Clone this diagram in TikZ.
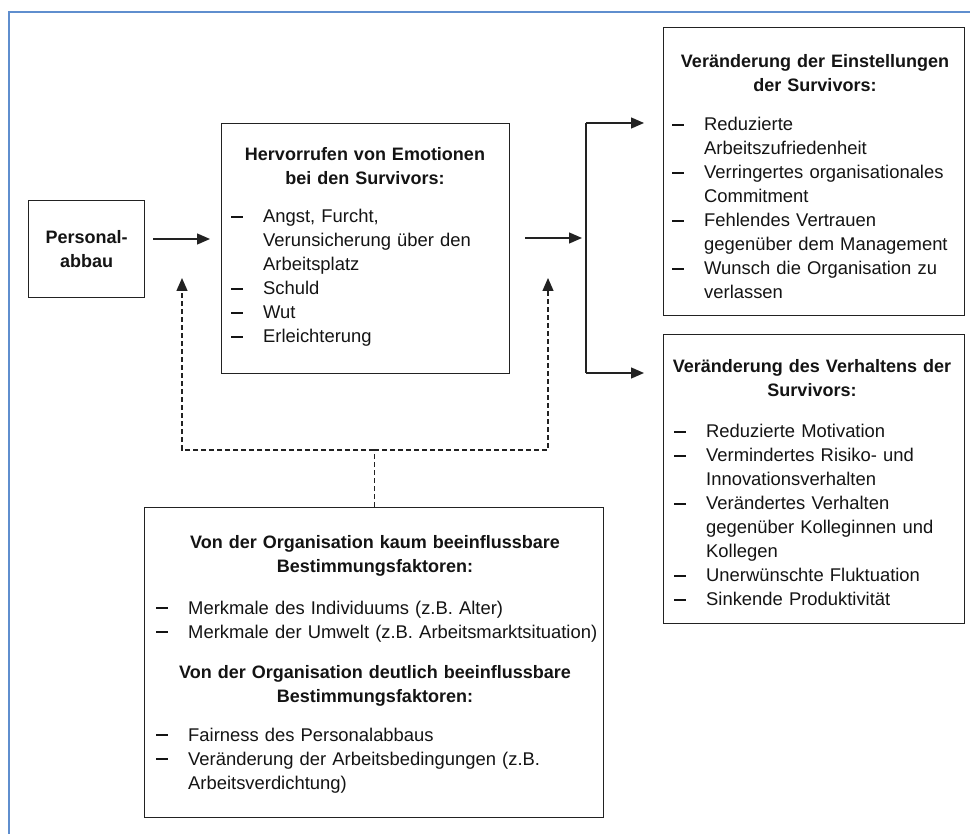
\documentclass[tikz,border=0pt]{standalone}
\usepackage{fontspec}
\setmainfont{Liberation Sans}
\usetikzlibrary{arrows.meta}
\definecolor{frameblue}{RGB}{95,142,206}
\definecolor{boxline}{RGB}{34,34,34}
\definecolor{ink}{RGB}{20,20,20}
% list bullet: a heavy dash, and the hanging indent for continued lines
\newcommand{\bdash}{\rule[5pt]{12pt}{2pt}}
\newcommand{\bitem}[1]{\makebox[32pt][l]{\bdash}#1}
\newcommand{\bcont}[1]{\hspace*{32pt}#1}
\begin{document}
\begin{tikzpicture}[x=1pt,y=-1pt,
  every node/.style={text=ink},
  box/.style={draw=boxline, line width=1.4pt, inner sep=0pt, anchor=north west},
  ttl/.style={anchor=base, inner sep=0pt, text width=460pt, align=center,
    font=\fontsize{18}{24}\selectfont\bfseries},
  lst/.style={anchor=base west, inner sep=0pt, text width=560pt, align=left,
    font=\fontsize{18.4}{24}\selectfont},
  line/.style={draw=boxline, line width=1.3pt},
  conn/.style={line, -{Triangle[length=13pt,width=11pt]}},
  dsh/.style={line, dash pattern=on 5pt off 3pt},
  tip/.style={-{Triangle[length=13pt,width=11pt]}},
]
\useasboundingbox (0,0) rectangle (970,834);
\fill[white] (0,0) rectangle (970,834);

% outer frame (top and left edges)
\draw[frameblue, line width=2.4pt] (9,840) -- (9,12) -- (976,12);

% boxes
\node[box, minimum width=116pt, minimum height=97pt, align=center,
  font=\fontsize{18}{24}\selectfont\bfseries] (b1) at (28,200) {Personal-\\abbau};
\node[box, minimum width=288pt, minimum height=250pt] (b2) at (221,123) {};
\node[box, minimum width=301pt, minimum height=288pt] (b3) at (663,27) {};
\node[box, minimum width=301pt, minimum height=289pt] (b4) at (663,334) {};
\node[box, minimum width=459pt, minimum height=310pt] (b5) at (144,507) {};

% emotions
\node[ttl] (b2t) at (365,161) {Hervorrufen von Emotionen\\bei den Survivors:};
\node[lst] (b2l) at (231,223) {\bitem{Angst, Furcht,}\\
  \bcont{Verunsicherung über den}\\
  \bcont{Arbeitsplatz}\\
  \bitem{Schuld}\\
  \bitem{Wut}\\
  \bitem{Erleichterung}};

% attitudes
\node[ttl] (b3t) at (815,68) {Veränderung der Einstellungen\\der Survivors:};
\node[lst] (b3l) at (672,131) {\bitem{Reduzierte}\\
  \bcont{Arbeitszufriedenheit}\\
  \bitem{Verringertes organisationales}\\
  \bcont{Commitment}\\
  \bitem{Fehlendes Vertrauen}\\
  \bcont{gegenüber dem Management}\\
  \bitem{Wunsch die Organisation zu}\\
  \bcont{verlassen}};

% behaviour
\node[ttl] (b4t) at (812,373) {Veränderung des Verhaltens der\\Survivors:};
\node[lst] (b4l) at (674,438) {\bitem{Reduzierte Motivation}\\
  \bitem{Vermindertes Risiko- und}\\
  \bcont{Innovationsverhalten}\\
  \bitem{Verändertes Verhalten}\\
  \bcont{gegenüber Kolleginnen und}\\
  \bcont{Kollegen}\\
  \bitem{Unerwünschte Fluktuation}\\
  \bitem{Sinkende Produktivität}};

% determinants
\node[ttl] (b5t1) at (375,548) {Von der Organisation kaum beeinflussbare\\Bestimmungsfaktoren:};
\node[lst] (b5l1) at (156,614) {\bitem{Merkmale des Individuums (z.B. Alter)}\\
  \bitem{Merkmale der Umwelt (z.B. Arbeitsmarktsituation)}};
\node[ttl] (b5t2) at (375,678) {Von der Organisation deutlich beeinflussbare\\Bestimmungsfaktoren:};
\node[lst] (b5l2) at (156,741) {\bitem{Fairness des Personalabbaus}\\
  \bitem{Veränderung der Arbeitsbedingungen (z.B.}\\
  \bcont{Arbeitsverdichtung)}};

% connector geometry
\coordinate (ya) at (0,239);
\coordinate (yb) at (0,238);
\coordinate (fmid) at (586,238);
\coordinate (ftop) at (586,123);
\coordinate (fbot) at (586,373);
\coordinate (dl) at (182,450);
\coordinate (dr) at (548,450);
\coordinate (dtl) at (182,278);
\coordinate (dtr) at (548,278);

% solid connectors
\draw[conn, shorten <=8pt, shorten >=11pt] (b1.east |- ya) -- (b2.west |- ya);
\draw[conn, shorten <=15pt, shorten >=4pt] (b2.east |- yb) -- (fmid);
\draw[line] (ftop) -- (fbot);
\draw[conn, shorten >=19pt] (ftop) -- (ftop -| b3.west);
\draw[conn, shorten >=19pt] (fbot) -- (fbot -| b4.west);

% dashed feedback connectors
\draw[dsh] (b5.north) -- (b5.north |- dl);
\draw[dsh, tip] (b5.north |- dl) -- (dl) -- (dtl);
\draw[dsh, tip] (b5.north |- dl) -- (dr) -- (dtr);
\end{tikzpicture}
\end{document}
